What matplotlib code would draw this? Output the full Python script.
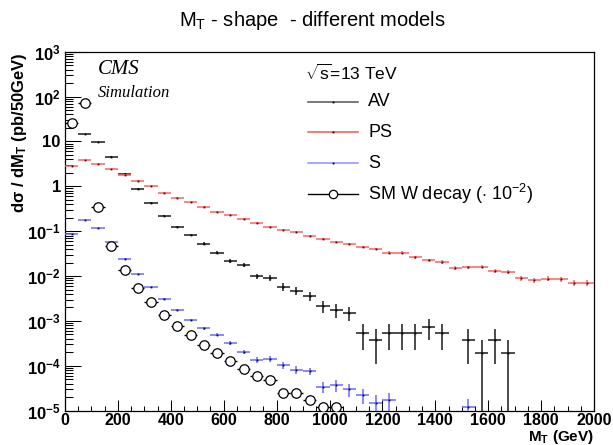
import numpy as np
import matplotlib
matplotlib.use('Agg')
import matplotlib.pyplot as plt
from matplotlib.ticker import FixedLocator, FixedFormatter, MultipleLocator, NullFormatter

plt.rcParams['font.family'] = ['Liberation Sans', 'DejaVu Sans']
plt.rcParams['mathtext.fontset'] = 'custom'
plt.rcParams['mathtext.rm'] = 'Liberation Sans'
plt.rcParams['mathtext.bf'] = 'Liberation Sans:bold'
plt.rcParams['mathtext.it'] = 'Liberation Sans:italic'

nan = np.nan
# binning (50 GeV bins, 0-2000 GeV)
bin_edges = np.arange(0, 2001, 50)

# AV model
av = [nan, 14.5, 9.9, 4.6, 1.92, 0.89, 0.43, 0.22, 0.126, 0.084,
      0.053, 0.0333, 0.0218, 0.0175, 0.0098, 0.0091, 0.0058, 0.00475, 0.00362, 0.00217,
      0.00177, 0.00154, 5.5e-4, 3.8e-4, 5.5e-4, 5.5e-4, 5.5e-4, 7.5e-4, 5.5e-4, nan,
      3.8e-4, 1.92e-4, 3.8e-4, 1.92e-4, nan, nan, nan, nan, nan, nan]
av_err = [nan, 0.052, 0.043, 0.03, 0.019, 0.013, 0.009, 0.0065, 0.0049, 0.004,
          0.0031, 0.0025, 0.002, 0.0018, 0.00136, 0.00131, 0.00105, 0.00095, 0.00083, 0.00064,
          0.00058, 0.00054, 3.2e-4, 2.7e-4, 3.2e-4, 3.2e-4, 3.2e-4, 3.8e-4, 3.2e-4, nan,
          2.7e-4, 1.915e-4, 2.7e-4, 1.915e-4, nan, nan, nan, nan, nan, nan]

# PS model
ps = [2.89, 3.87, 3.1, 2.4, 1.82, 1.34, 1.0, 0.72, 0.56, 0.44,
      0.35, 0.274, 0.231, 0.188, 0.153, 0.125, 0.109, 0.095, 0.0786, 0.0664,
      0.0586, 0.0513, 0.0454, 0.0397, 0.0334, 0.0334, 0.0264, 0.0226, 0.0207, 0.0155,
      0.0157, 0.0163, 0.0133, 0.0126, 0.0090, 0.0081, 0.0087, 0.0086, 0.0070, 0.0071]
ps_err = [0.0205, 0.0237, 0.0212, 0.0187, 0.0162, 0.0139, 0.012, 0.0102, 0.009, 0.008,
          0.0071, 0.0063, 0.0058, 0.0052, 0.0047, 0.0043, 0.004, 0.0037, 0.0034, 0.0031,
          0.0029, 0.0027, 0.0026, 0.0024, 0.0022, 0.0022, 0.002, 0.0018, 0.0017, 0.0015,
          0.0015, 0.0015, 0.0014, 0.0014, 0.0011, 0.0011, 0.0011, 0.0011, 0.001, 0.001]

# S model
s = [0.0885, 0.181, 0.120, 0.0578, 0.0245, 0.0112, 0.00566, 0.0031, 0.00174, 0.00106,
     6.9e-4, 4.9e-4, 3.3e-4, 2.05e-4, 1.34e-4, 1.43e-4, 1.05e-4, 8.1e-5, 7.6e-5, 3.46e-5,
     3.7e-5, 3.0e-5, 2.26e-5, 1.52e-5, 1.75e-5, nan, nan, nan, nan, nan,
     1.24e-5, nan, nan, nan, nan, nan, nan, nan, nan, nan]
s_err = [5.2e-4, 7.5e-4, 6.1e-4, 4.2e-4, 2.8e-4, 1.9e-4, 1.3e-4, 9.8e-5, 7.3e-5, 5.7e-5,
         4.6e-5, 3.9e-5, 3.2e-5, 2.5e-5, 2.0e-5, 2.1e-5, 1.8e-5, 1.6e-5, 1.5e-5, 1.0e-5,
         1.07e-5, 9.6e-6, 8.4e-6, 6.9e-6, 7.4e-6, nan, nan, nan, nan, nan,
         6.2e-6, nan, nan, nan, nan, nan, nan, nan, nan, nan]

# SM W decay (x 1e-2)
sm = [26.2, 71.0, 0.353, 0.0477, 0.01397, 0.00555, 0.00266, 0.00139, 7.9e-4, 4.8e-4,
      2.98e-4, 1.95e-4, 1.31e-4, 8.6e-5, 5.98e-5, 4.8e-5, 2.42e-5, 2.54e-5, 1.75e-5, 1.24e-5,
      1.2e-5, nan, nan, nan, nan, nan, nan, nan, nan, nan,
      nan, nan, nan, nan, nan, nan, nan, nan, nan, nan]

x_ticks = [0, 200, 400, 600, 800, 1000, 1200, 1400, 1600, 1800, 2000]
y_ticks = [1e-5, 1e-4, 1e-3, 1e-2, 1e-1, 1, 10, 1e2, 1e3]
y_ticklabels = [r'$\mathbf{10^{-5}}$', r'$\mathbf{10^{-4}}$', r'$\mathbf{10^{-3}}$',
                r'$\mathbf{10^{-2}}$', r'$\mathbf{10^{-1}}$', '1', '10',
                r'$\mathbf{10^{2}}$', r'$\mathbf{10^{3}}$']

centers = 0.5 * (bin_edges[:-1] + bin_edges[1:])
halfw = 0.5 * np.diff(bin_edges)

W, H = 613, 445
fig = plt.figure(figsize=(W / 100, H / 100), dpi=100)
L, R, T, B = 65, 594, 51.7, 410.7
ax = fig.add_axes([L / W, 1 - B / H, (R - L) / W, (B - T) / H])
ax.set_yscale('log', nonpositive='clip')
ax.set_xlim(0, 2000)
ax.set_ylim(1e-5, 1e3)


def draw_hist(vals, errs, color, dot, z):
    vals = np.array(vals, float)
    errs = np.array(errs, float)
    ax.errorbar(centers, vals, xerr=halfw, yerr=errs, fmt='none', ecolor=color,
                elinewidth=1.1, capsize=0, zorder=z)
    ax.plot(centers, vals, ls='none', marker='s', ms=1.3, mfc=dot, mec=dot, mew=0, zorder=z + 0.1)


draw_hist(av, av_err, '#1a1a1a', '#000000', 3)
draw_hist(ps, ps_err, '#ff6262', '#550000', 3.2)
draw_hist(s, s_err, '#6a6aff', '#000055', 3.4)

smv = np.array(sm, float)
ax.errorbar(centers, smv, xerr=halfw, fmt='none', ecolor='black', elinewidth=1.0, capsize=0, zorder=4)
ax.plot(centers, smv, ls='none', marker='o', ms=6.8, mfc='white', mec='black', mew=0.9, zorder=5)

# axes styling
for sp in ax.spines.values():
    sp.set_linewidth(0.9)
ax.xaxis.set_major_locator(FixedLocator(x_ticks))
ax.xaxis.set_minor_locator(MultipleLocator(50))
ax.yaxis.set_major_locator(FixedLocator(y_ticks))
ax.yaxis.set_major_formatter(FixedFormatter(y_ticklabels))
minor_y = [m * 10.0 ** e for e in range(-5, 3) for m in range(2, 10)]
ax.yaxis.set_minor_locator(FixedLocator(minor_y))
ax.yaxis.set_minor_formatter(NullFormatter())
ax.tick_params(axis='x', which='major', direction='in', length=7.7, width=0.75, pad=2.0,
               labelsize=11.5, top=False)
ax.tick_params(axis='x', which='minor', direction='in', length=3.8, width=0.75, top=False)
ax.tick_params(axis='y', which='major', direction='in', length=11.3, width=0.75, pad=3.0,
               labelsize=12, right=False)
ax.tick_params(axis='y', which='minor', direction='in', length=5.5, width=0.75, right=False)
for lab in ax.get_xticklabels() + ax.get_yticklabels():
    lab.set_fontweight('bold')

# titles / labels
fig.text(312 / W, 1 - 21 / H, r'M$_{\mathrm{T}}$ - shape  - different models', ha='center', va='center',
         fontsize=14.5)
fig.text(20 / W, 1 - 52 / H, r'd$\mathbf{\sigma}$ / dM$_{\mathbf{T}}$ (pb/50GeV)', rotation=90,
         ha='center', va='top', fontsize=12, fontweight='bold')
fig.text(R / W, 1 - 441.3 / H, r'M$_{\mathbf{T}}$ (GeV)', ha='right', va='baseline', fontsize=11,
         fontweight='bold')
fig.text(98 / W, 1 - 74 / H, 'CMS', family='Liberation Serif', style='italic', fontsize=15,
         va='baseline', ha='left')
fig.text(98 / W, 1 - 97 / H, 'Simulation', family='Liberation Serif', style='italic', fontsize=12,
         va='baseline', ha='left')

# legend (manual)
tr = ax.transAxes
def fx(px):
    return (px - L) / (R - L)
def fy(py):
    return 1 - (py - T) / (B - T)

ax.text(fx(305), fy(73), r'$\sqrt{\mathrm{s}}$=13 TeV', transform=tr, fontsize=12.5, va='center', ha='left')
leg = [('AV', '#555555', 101.7), ('PS', '#ff5050', 132.3), ('S', '#9090ff', 163.0)]
for name, col, py in leg:
    ax.plot([fx(308), fx(358)], [fy(py), fy(py)], color=col, lw=1.1, transform=tr, clip_on=False)
    ax.plot([fx(333)], [fy(py)], ls='none', marker='s', ms=1.3, mfc='black', mec='black', mew=0,
            transform=tr, clip_on=False)
    ax.text(fx(368), fy(py), name, transform=tr, fontsize=13, va='center', ha='left')
py = 194
ax.plot([fx(308), fx(358)], [fy(py), fy(py)], color='black', lw=1.0, transform=tr, clip_on=False)
ax.plot([fx(333)], [fy(py)], ls='none', marker='o', ms=6.0, mfc='white', mec='black', mew=0.9,
        transform=tr, clip_on=False)
ax.text(fx(368), fy(py), r'SM W decay ($\cdot$ 10$^{\mathrm{-2}}$)', transform=tr, fontsize=13,
        va='center', ha='left')

fig.savefig('out.png', dpi=100)
